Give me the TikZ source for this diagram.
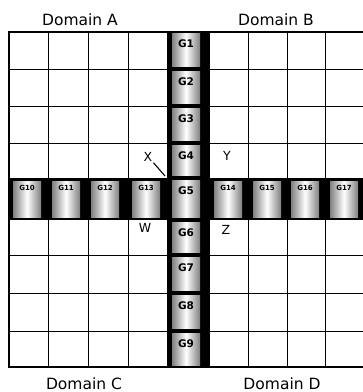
\documentclass[tikz,border=0pt]{standalone}
\usepackage{fontspec}
\setmainfont{DejaVu Sans}
\begin{document}
\begin{tikzpicture}[x=1pt, y=-1pt,
  gridline/.style={black, line width=1pt},
  gatecell/.style={left color=black!50, right color=black!50, middle color=white},
  domlabel/.style={font=\fontsize{15.5}{18}\selectfont, inner sep=0pt},
  gatelabel/.style={font=\fontsize{10.5}{12}\selectfont\bfseries, inner sep=0pt},
  smallgate/.style={font=\fontsize{7}{8}\selectfont\bfseries, inner sep=0pt},
  celllabel/.style={font=\fontsize{12.5}{14}\selectfont, inner sep=0pt}]
  \useasboundingbox (0,0) rectangle (363,392);
  % grid of the four domains
  \foreach \x in {48,88,128,248,287,325} \draw[gridline] (\x,31) -- (\x,368);
  \foreach \y in {69,106,143,255,293,331} \draw[gridline] (8,\y) -- (366,\y);
  % gate bands
  \fill (167,31) rectangle (210,368);
  \fill (8,178) rectangle (366,220);
  % vertical gates
  \foreach \ya/\yb/\gname in {31/69/G1, 69/106/G2, 106/143/G3, 143/178/G4,
      178/220/G5, 220/255/G6, 255/293/G7, 293/331/G8, 331/368/G9} {
    \shade[gatecell] (172,\ya+2.5) rectangle (200,\yb-2.5);
    \node[gatelabel] (\gname) at (186,\ya+13) {\gname};
  }
  % horizontal gates
  \foreach \xc/\gname in {27/G10, 66/G11, 105/G12, 146/G13,
      228/G14, 267/G15, 305/G16, 344/G17} {
    \shade[gatecell] (\xc-14,181.5) rectangle (\xc+14,217.5);
    \node[smallgate] (\gname) at (\xc,188) {\gname};
  }
  % outer frame
  \draw[line width=2.8pt] (366,32) -- (9,32) -- (9,367) -- (366,367);
  % corner cells
  \node[celllabel] (X) at (148,157) {X};
  \node[celllabel] (Y) at (227,156) {Y};
  \node[celllabel] (W) at (145,228) {W};
  \node[celllabel] (Z) at (226,230) {Z};
  \coordinate (Xc) at (165,176);
  \draw[line width=1.1pt] (X.south east) ++(1,1) -- (Xc);
  % domains
  \node[domlabel] (domA) at (80,20) {Domain A};
  \node[domlabel] (domB) at (276,20) {Domain B};
  \node[domlabel] (domC) at (84,384) {Domain C};
  \node[domlabel] (domD) at (282,384) {Domain D};
\end{tikzpicture}
\end{document}
